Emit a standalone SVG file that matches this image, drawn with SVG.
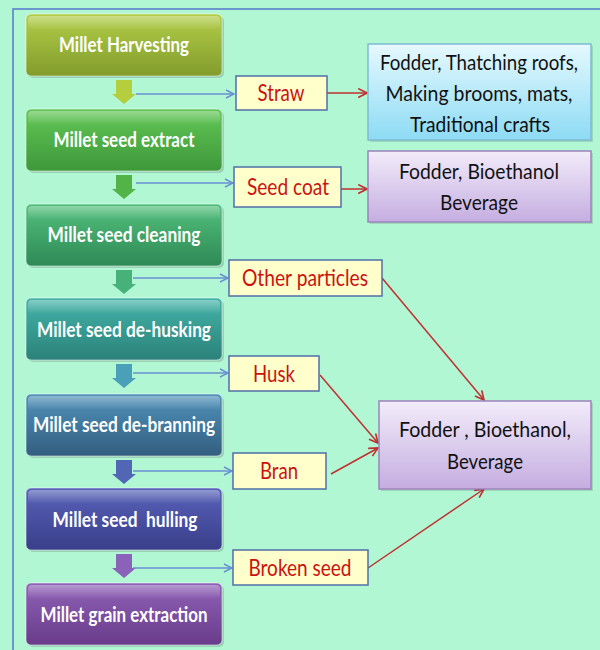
<svg xmlns="http://www.w3.org/2000/svg" width="600" height="650" viewBox="0 0 600 650">
<defs>
<linearGradient id="g1" x1="0" y1="0" x2="0" y2="1"><stop offset="0" stop-color="#B2CE48"/><stop offset="1" stop-color="#829C2C"/></linearGradient>
<linearGradient id="g2" x1="0" y1="0" x2="0" y2="1"><stop offset="0" stop-color="#62C757"/><stop offset="1" stop-color="#3E9839"/></linearGradient>
<linearGradient id="g3" x1="0" y1="0" x2="0" y2="1"><stop offset="0" stop-color="#52C07C"/><stop offset="1" stop-color="#2E8A56"/></linearGradient>
<linearGradient id="g4" x1="0" y1="0" x2="0" y2="1"><stop offset="0" stop-color="#44B3A8"/><stop offset="1" stop-color="#2B827A"/></linearGradient>
<linearGradient id="g5" x1="0" y1="0" x2="0" y2="1"><stop offset="0" stop-color="#5092BA"/><stop offset="1" stop-color="#335E80"/></linearGradient>
<linearGradient id="g6" x1="0" y1="0" x2="0" y2="1"><stop offset="0" stop-color="#5862BA"/><stop offset="1" stop-color="#3A3E8A"/></linearGradient>
<linearGradient id="g7" x1="0" y1="0" x2="0" y2="1"><stop offset="0" stop-color="#9062B8"/><stop offset="1" stop-color="#693B8A"/></linearGradient>
<linearGradient id="gc" x1="0" y1="0" x2="0" y2="1"><stop offset="0" stop-color="#E6F9FE"/><stop offset="1" stop-color="#8DDBF4"/></linearGradient>
<linearGradient id="gp" x1="0" y1="0" x2="0" y2="1"><stop offset="0" stop-color="#F2ECFA"/><stop offset="1" stop-color="#C5ADE0"/></linearGradient>
<linearGradient id="gloss" x1="0" y1="0" x2="0" y2="1"><stop offset="0" stop-color="#FFFFFF" stop-opacity="0.35"/><stop offset="1" stop-color="#FFFFFF" stop-opacity="0"/></linearGradient>
<marker id="ab" viewBox="0 0 10 10" refX="9" refY="5" markerWidth="10" markerHeight="10" markerUnits="userSpaceOnUse" orient="auto"><path d="M1,1 L9,5 L1,9" fill="none" stroke="#6A8FD2" stroke-width="1.5"/></marker>
<marker id="ar" viewBox="0 0 10 10" refX="9" refY="5" markerWidth="11" markerHeight="11" markerUnits="userSpaceOnUse" orient="auto"><path d="M1,1 L9,5 L1,9" fill="none" stroke="#C03030" stroke-width="1.5"/></marker>
</defs>
<style>
.step{stroke:#FFFFFF;stroke-opacity:0.5;stroke-width:1}
.stxt{font-family:Lato,"Liberation Sans",sans-serif;font-weight:bold;font-size:20px;fill:#FFFFFF;text-anchor:middle}
.lab{fill:#FFFFCC;stroke:#4F6FA8;stroke-width:1.5}
.ltxt{font-family:Lato,"Liberation Sans",sans-serif;font-size:22.5px;fill:#CC1111;text-anchor:middle}
.rtxt{font-family:Lato,"Liberation Sans",sans-serif;font-size:21px;fill:#111111;text-anchor:middle}
.bl{stroke:#6A8FD2;stroke-width:1.5;fill:none}
.rl{stroke:#C03030;stroke-width:1.5;fill:none}
</style>
<rect x="0" y="0" width="600" height="650" fill="#B2F7D4"/>
<path d="M13,650 L13,9 L600,9" fill="none" stroke="#5577CC" stroke-width="1.5"/>

<g id="step1"><rect x="28" y="16" width="196" height="62" rx="5" fill="#000" opacity="0.15"/><rect class="step" x="26" y="14" width="196" height="62" rx="5" fill="url(#g1)"/><rect x="28" y="16" width="192" height="14" rx="4" fill="url(#gloss)"/><text class="stxt" x="124" y="52" textLength="130" lengthAdjust="spacingAndGlyphs">Millet Harvesting</text></g>
<g id="step2"><rect x="28" y="111" width="196" height="62" rx="5" fill="#000" opacity="0.15"/><rect class="step" x="26" y="109" width="196" height="62" rx="5" fill="url(#g2)"/><rect x="28" y="111" width="192" height="14" rx="4" fill="url(#gloss)"/><text class="stxt" x="124" y="147" textLength="141" lengthAdjust="spacingAndGlyphs">Millet seed extract</text></g>
<g id="step3"><rect x="28" y="206" width="196" height="62" rx="5" fill="#000" opacity="0.15"/><rect class="step" x="26" y="204" width="196" height="62" rx="5" fill="url(#g3)"/><rect x="28" y="206" width="192" height="14" rx="4" fill="url(#gloss)"/><text class="stxt" x="124" y="242" textLength="153" lengthAdjust="spacingAndGlyphs">Millet seed cleaning</text></g>
<g id="step4"><rect x="28" y="300" width="196" height="62" rx="5" fill="#000" opacity="0.15"/><rect class="step" x="26" y="298" width="196" height="62" rx="5" fill="url(#g4)"/><rect x="28" y="300" width="192" height="14" rx="4" fill="url(#gloss)"/><text class="stxt" x="124" y="337" textLength="174" lengthAdjust="spacingAndGlyphs">Millet seed de-husking</text></g>
<g id="step5"><rect x="28" y="396" width="196" height="62" rx="5" fill="#000" opacity="0.15"/><rect class="step" x="26" y="394" width="196" height="62" rx="5" fill="url(#g5)"/><rect x="28" y="396" width="192" height="14" rx="4" fill="url(#gloss)"/><text class="stxt" x="124" y="432" textLength="182" lengthAdjust="spacingAndGlyphs">Millet seed de-branning</text></g>
<g id="step6"><rect x="28" y="490" width="196" height="62" rx="5" fill="#000" opacity="0.15"/><rect class="step" x="26" y="488" width="196" height="62" rx="5" fill="url(#g6)"/><rect x="28" y="490" width="192" height="14" rx="4" fill="url(#gloss)"/><text class="stxt" x="125" y="527" textLength="145" lengthAdjust="spacingAndGlyphs" xml:space="preserve">Millet seed  hulling</text></g>
<g id="step7"><rect x="28" y="585" width="196" height="62" rx="5" fill="#000" opacity="0.15"/><rect class="step" x="26" y="583" width="196" height="62" rx="5" fill="url(#g7)"/><rect x="28" y="585" width="192" height="14" rx="4" fill="url(#gloss)"/><text class="stxt" x="124" y="622" textLength="167" lengthAdjust="spacingAndGlyphs">Millet grain extraction</text></g>

<g id="flow-arrows">
<path d="M116,80 L132,80 L132,94 L136,94 L124,104 L112,94 L116,94 Z" fill="#B4CE3E"/>
<path d="M116,175 L132,175 L132,189 L136,189 L124,199 L112,189 L116,189 Z" fill="#52B446"/>
<path d="M116,270 L132,270 L132,284 L136,284 L124,294 L112,284 L116,284 Z" fill="#46B27A"/>
<path d="M116,364 L132,364 L132,378 L136,378 L124,388 L112,378 L116,378 Z" fill="#4AA0B8"/>
<path d="M116,460 L132,460 L132,474 L136,474 L124,484 L112,474 L116,474 Z" fill="#5266B6"/>
<path d="M116,554 L132,554 L132,568 L136,568 L124,578 L112,568 L116,568 Z" fill="#8A62BA"/>
</g>

<g id="connectors">
<line class="bl" x1="136" y1="94" x2="234" y2="94" marker-end="url(#ab)"/>
<line class="bl" x1="136" y1="183" x2="233" y2="183" marker-end="url(#ab)"/>
<line class="bl" x1="133" y1="278" x2="228" y2="278" marker-end="url(#ab)"/>
<line class="bl" x1="133" y1="373" x2="228" y2="373" marker-end="url(#ab)"/>
<line class="bl" x1="133" y1="471" x2="232" y2="471" marker-end="url(#ab)"/>
<line class="bl" x1="133" y1="568" x2="232" y2="568" marker-end="url(#ab)"/>
<line class="rl" x1="327" y1="93" x2="367" y2="93" marker-end="url(#ar)"/>
<line class="rl" x1="341" y1="189" x2="367" y2="189" marker-end="url(#ar)"/>
<line class="rl" x1="382" y1="278" x2="484" y2="400" marker-end="url(#ar)"/>
<line class="rl" x1="320" y1="375" x2="378" y2="443" marker-end="url(#ar)"/>
<line class="rl" x1="331" y1="474" x2="378" y2="448" marker-end="url(#ar)"/>
<line class="rl" x1="368" y1="568" x2="484" y2="489" marker-end="url(#ar)"/>
</g>

<g id="straw"><rect class="lab" x="236" y="76" width="91" height="34"/><text class="ltxt" x="281" y="101" textLength="47" lengthAdjust="spacingAndGlyphs">Straw</text></g>
<g id="seedcoat"><rect class="lab" x="234" y="167" width="107" height="40"/><text class="ltxt" x="288" y="195" textLength="82" lengthAdjust="spacingAndGlyphs">Seed coat</text></g>
<g id="otherparticles"><rect class="lab" x="229" y="260" width="153" height="36"/><text class="ltxt" x="305" y="286" textLength="126" lengthAdjust="spacingAndGlyphs">Other particles</text></g>
<g id="husk"><rect class="lab" x="229" y="356" width="90" height="35"/><text class="ltxt" x="274" y="382" textLength="42" lengthAdjust="spacingAndGlyphs">Husk</text></g>
<g id="bran"><rect class="lab" x="233" y="453" width="93" height="36"/><text class="ltxt" x="279" y="479" textLength="38" lengthAdjust="spacingAndGlyphs">Bran</text></g>
<g id="brokenseed"><rect class="lab" x="233" y="550" width="135" height="35"/><text class="ltxt" x="300" y="576" textLength="103" lengthAdjust="spacingAndGlyphs">Broken seed</text></g>

<g id="uses1"><rect x="370" y="46" width="223" height="96" fill="#000" opacity="0.12"/><rect x="368" y="44" width="223" height="96" fill="url(#gc)" stroke="#7DBBD2" stroke-width="1.5"/><text class="rtxt" x="479" y="70" textLength="198" lengthAdjust="spacingAndGlyphs">Fodder, Thatching roofs,</text><text class="rtxt" x="479" y="101" textLength="187" lengthAdjust="spacingAndGlyphs">Making brooms, mats,</text><text class="rtxt" x="480" y="132" textLength="140" lengthAdjust="spacingAndGlyphs">Traditional crafts</text></g>
<g id="uses2"><rect x="370" y="153" width="223" height="71" fill="#000" opacity="0.12"/><rect x="368" y="151" width="223" height="71" fill="url(#gp)" stroke="#9C84BC" stroke-width="1.5"/><text class="rtxt" x="479" y="179" textLength="160" lengthAdjust="spacingAndGlyphs">Fodder, Bioethanol</text><text class="rtxt" x="479" y="210" textLength="78" lengthAdjust="spacingAndGlyphs">Beverage</text></g>
<g id="uses3"><rect x="381" y="403" width="212" height="88" fill="#000" opacity="0.12"/><rect x="379" y="401" width="212" height="88" fill="url(#gp)" stroke="#9C84BC" stroke-width="1.5"/><text class="rtxt" x="485" y="437" textLength="172" lengthAdjust="spacingAndGlyphs">Fodder , Bioethanol,</text><text class="rtxt" x="485" y="469" textLength="76" lengthAdjust="spacingAndGlyphs">Beverage</text></g>
</svg>
